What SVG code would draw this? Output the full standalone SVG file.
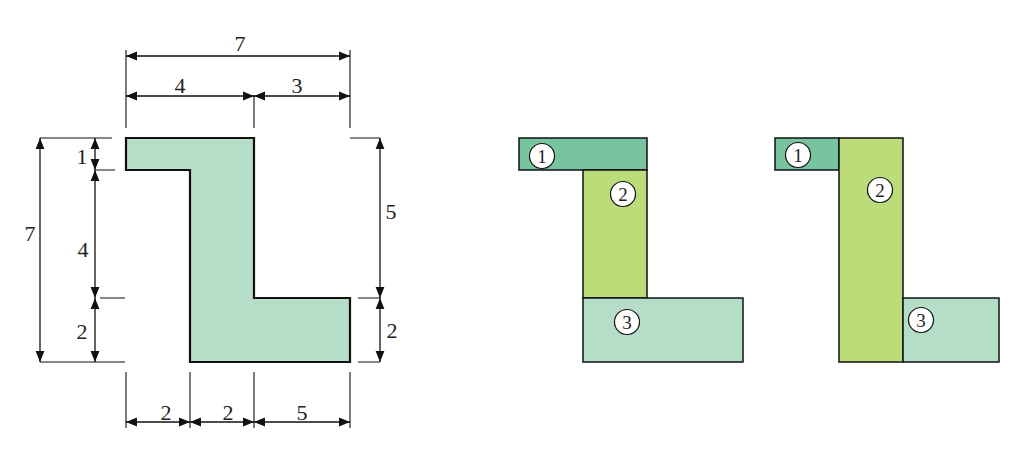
<svg xmlns="http://www.w3.org/2000/svg" width="1024" height="449" viewBox="0 0 1024 449">
<defs>
<marker id="a" viewBox="0 0 10 10" refX="10" refY="5" markerWidth="11" markerHeight="11" markerUnits="userSpaceOnUse" orient="auto-start-reverse"><path d="M0,1 L10,5 L0,9 Z" fill="#111"/></marker>
</defs>
<style>
.d{stroke:#111;stroke-width:1.3;fill:none;marker-start:url(#a);marker-end:url(#a)}
.e{stroke:#111;stroke-width:1.1;fill:none}
.s{stroke:#111;stroke-width:1.5}
text{font-family:"Liberation Serif",serif;font-size:22px;fill:#222;text-anchor:middle}
.c{fill:#fff;stroke:#111;stroke-width:1.2}
.n{font-size:19px}
</style>
<rect width="1024" height="449" fill="#fff"/>
<g id="shape">
<path stroke="#111" stroke-width="2.2" fill="#b6ddc8" d="M126,138 H254 V298 H350 V362 H190 V170 H126 Z"/>
</g>
<g id="dimensions">
<path class="e" d="M126,50V128M350,50V128M254,95V128M40,138H112M40,362H125M95,170H115M100,298H125M350,138H380M358,298H380M358,362H380M126,372V428M190,372V428M254,372V428M350,372V428"/>
<path class="d" d="M126,56H350"/>
<path class="d" d="M126,96H254"/><path class="d" d="M254,96H350"/>
<path class="d" d="M40,138V362"/>
<path class="d" d="M95,138V170"/><path class="d" d="M95,170V298"/><path class="d" d="M95,298V362"/>
<path class="d" d="M380,138V298"/><path class="d" d="M380,298V362"/>
<path class="d" d="M126,422H190"/><path class="d" d="M190,422H254"/><path class="d" d="M254,422H350"/>
<text x="240" y="51">7</text><text x="180" y="93">4</text><text x="297" y="93">3</text>
<text x="30" y="241">7</text><text x="82" y="164">1</text><text x="83" y="257">4</text><text x="82" y="339">2</text>
<text x="391" y="219">5</text><text x="392" y="338">2</text>
<text x="166" y="420">2</text><text x="228" y="420">2</text><text x="302" y="420">5</text>
</g>
<g id="split1">
<rect class="s" x="519" y="138" width="128" height="32" fill="#78c4a0"/>
<rect class="s" x="583" y="170" width="64" height="128" fill="#bcdc7a"/>
<rect class="s" x="583" y="298" width="160" height="64" fill="#b6ddc8"/>
<circle class="c" cx="542" cy="156" r="12.5"/><text class="n" x="542" y="163">1</text>
<circle class="c" cx="623" cy="194" r="12.5"/><text class="n" x="623" y="201">2</text>
<circle class="c" cx="627" cy="322" r="12.5"/><text class="n" x="627" y="329">3</text>
</g>
<g id="split2">
<rect class="s" x="775" y="138" width="64" height="32" fill="#78c4a0"/>
<rect class="s" x="839" y="138" width="64" height="224" fill="#bcdc7a"/>
<rect class="s" x="903" y="298" width="96" height="64" fill="#b6ddc8"/>
<circle class="c" cx="798" cy="155" r="12.5"/><text class="n" x="798" y="162">1</text>
<circle class="c" cx="880" cy="190" r="12.5"/><text class="n" x="880" y="197">2</text>
<circle class="c" cx="921" cy="320" r="12.5"/><text class="n" x="921" y="327">3</text>
</g>
</svg>
